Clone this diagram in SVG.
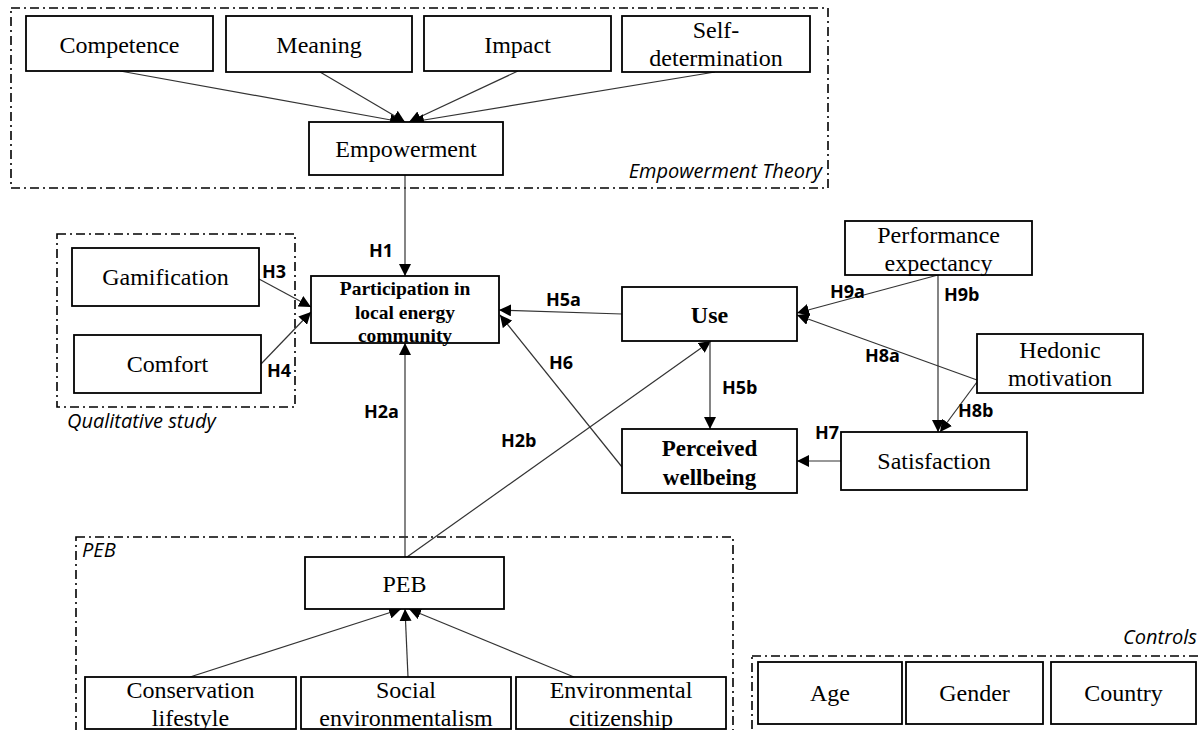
<svg xmlns="http://www.w3.org/2000/svg" width="1200" height="730" viewBox="0 0 1200 730">
<style>
.bg{fill:#fff}
.node rect{fill:#fff;stroke:#000;stroke-width:1.8}
.node text{font-family:"Liberation Serif","Times New Roman",serif;font-size:24px;fill:#000;text-anchor:middle}
.node text.b{font-weight:bold}
.grp{fill:none;stroke:#000;stroke-width:1.6;stroke-dasharray:9 4 2 4}
.gl{font-family:"Open Sans","Liberation Sans",sans-serif;font-style:italic;font-size:20px;fill:#000}
.lab{font-family:"Open Sans","Liberation Sans",sans-serif;font-weight:bold;font-size:18px;fill:#000}
#connectors line{stroke:#333;stroke-width:1.2;marker-end:url(#arr)}
</style>
<defs>
<marker id="arr" viewBox="0 0 10 10" refX="10" refY="5" markerWidth="12" markerHeight="12" markerUnits="userSpaceOnUse" orient="auto"><path d="M0,0 L10,5 L0,10 z" fill="#000"/></marker>
</defs>
<rect class="bg" x="0" y="0" width="1200" height="730"/>

<g id="groups">
<rect class="grp" x="11" y="8" width="817" height="180"/>
<text class="gl" x="822" y="178" text-anchor="end">Empowerment Theory</text>
<rect class="grp" x="57" y="234" width="238" height="173"/>
<text class="gl" x="67" y="428">Qualitative study</text>
<rect class="grp" x="76" y="537" width="657" height="200"/>
<text class="gl" x="82" y="557">PEB</text>
<rect class="grp" x="752" y="656" width="460" height="80"/>
<text class="gl" x="1197" y="644" text-anchor="end">Controls</text>
</g>

<g id="connectors">
<line x1="120" y1="71" x2="402" y2="122"/>
<line x1="320" y1="72" x2="405" y2="122"/>
<line x1="518" y1="71" x2="409" y2="122"/>
<line x1="715" y1="72" x2="412" y2="122"/>
<line x1="405" y1="175" x2="405" y2="276"/>
<line x1="259" y1="279" x2="311" y2="307"/>
<line x1="261" y1="364" x2="311" y2="312"/>
<line x1="622" y1="314" x2="499" y2="310"/>
<line x1="622" y1="467" x2="500" y2="315"/>
<line x1="405" y1="557" x2="405" y2="343"/>
<line x1="407" y1="557" x2="711" y2="341"/>
<line x1="710" y1="341" x2="710" y2="429"/>
<line x1="938" y1="275" x2="797" y2="313"/>
<line x1="977" y1="380" x2="797" y2="315"/>
<line x1="938" y1="275" x2="938" y2="432"/>
<line x1="977" y1="382" x2="940" y2="432"/>
<line x1="841" y1="461" x2="797" y2="461"/>
<line x1="190" y1="677" x2="401" y2="609"/>
<line x1="408" y1="677" x2="405" y2="609"/>
<line x1="574" y1="677" x2="409" y2="609"/>
</g>

<g id="labels">
<text class="lab" x="369" y="257">H1</text>
<text class="lab" x="262" y="278">H3</text>
<text class="lab" x="267" y="377">H4</text>
<text class="lab" x="546" y="306">H5a</text>
<text class="lab" x="549" y="369">H6</text>
<text class="lab" x="364" y="418">H2a</text>
<text class="lab" x="501" y="447">H2b</text>
<text class="lab" x="722" y="394">H5b</text>
<text class="lab" x="830" y="298">H9a</text>
<text class="lab" x="944" y="301">H9b</text>
<text class="lab" x="865" y="362">H8a</text>
<text class="lab" x="958" y="417">H8b</text>
<text class="lab" x="815" y="439">H7</text>
</g>

<g id="n-competence" class="node"><rect x="26" y="16" width="187" height="55"/><text x="119.5" y="53">Competence</text></g>
<g id="n-meaning" class="node"><rect x="226" y="16" width="186" height="56"/><text x="319" y="53">Meaning</text></g>
<g id="n-impact" class="node"><rect x="424" y="16" width="187" height="55"/><text x="517.5" y="53">Impact</text></g>
<g id="n-selfdetermination" class="node"><rect x="622" y="16" width="188" height="56"/><text x="716" y="38">Self-</text><text x="716" y="66">determination</text></g>
<g id="n-empowerment" class="node"><rect x="309" y="122" width="194" height="53"/><text x="406" y="157">Empowerment</text></g>
<g id="n-participation" class="node"><rect x="311" y="276" width="188" height="67"/><text class="b" x="405" y="295" style="font-size:19.5px">Participation in</text><text class="b" x="405" y="318.5" style="font-size:19.5px">local energy</text><text class="b" x="405" y="342" style="font-size:19.5px">community</text></g>
<g id="n-gamification" class="node"><rect x="72" y="248" width="187" height="58"/><text x="165.5" y="285">Gamification</text></g>
<g id="n-comfort" class="node"><rect x="74" y="335" width="187" height="58"/><text x="167.5" y="372">Comfort</text></g>
<g id="n-use" class="node"><rect x="622" y="287" width="175" height="54"/><text class="b" x="709.5" y="323" style="font-size:24px">Use</text></g>
<g id="n-wellbeing" class="node"><rect x="622" y="429" width="175" height="64"/><text class="b" x="709.5" y="456" style="font-size:23px">Perceived</text><text class="b" x="709.5" y="485" style="font-size:23px">wellbeing</text></g>
<g id="n-performance" class="node"><rect x="845" y="221" width="187" height="54"/><text x="938.5" y="243">Performance</text><text x="938.5" y="271">expectancy</text></g>
<g id="n-hedonic" class="node"><rect x="977" y="334" width="166" height="59"/><text x="1060" y="358">Hedonic</text><text x="1060" y="386">motivation</text></g>
<g id="n-satisfaction" class="node"><rect x="841" y="432" width="186" height="58"/><text x="934" y="469">Satisfaction</text></g>
<g id="n-peb" class="node"><rect x="305" y="557" width="199" height="52"/><text x="404.5" y="592">PEB</text></g>
<g id="n-conservation" class="node"><rect x="85" y="677" width="211" height="52"/><text x="190.5" y="698">Conservation</text><text x="190.5" y="726">lifestyle</text></g>
<g id="n-social" class="node"><rect x="301" y="677" width="210" height="52"/><text x="406" y="698">Social</text><text x="406" y="726">environmentalism</text></g>
<g id="n-environmental" class="node"><rect x="516" y="677" width="210" height="52"/><text x="621" y="698">Environmental</text><text x="621" y="726">citizenship</text></g>
<g id="n-age" class="node"><rect x="758" y="662" width="144" height="62"/><text x="830" y="701">Age</text></g>
<g id="n-gender" class="node"><rect x="906" y="662" width="137" height="62"/><text x="974.5" y="701">Gender</text></g>
<g id="n-country" class="node"><rect x="1051" y="662" width="145" height="62"/><text x="1123.5" y="701">Country</text></g>
</svg>
